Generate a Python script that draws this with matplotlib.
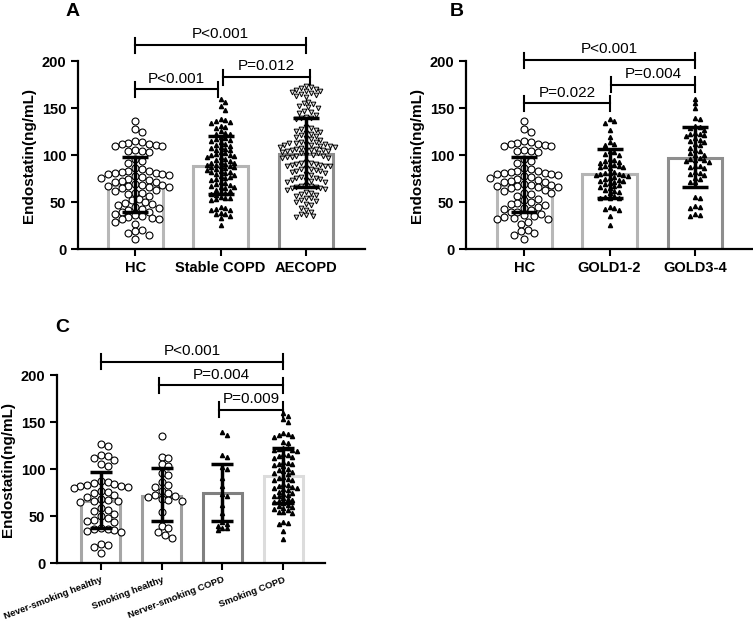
import numpy as np
import matplotlib
matplotlib.use("Agg")
import matplotlib.pyplot as plt

plt.rcParams['font.family'] = ['Liberation Sans', 'DejaVu Sans']

# ---- Dados ----
# Painel A
grupos_a = ["HC", "Stable COPD", "AECOPD"]
media_a = [68, 88, 101]
inf_a = [40, 59, 66]
sup_a = [98, 120, 139]

# Painel B
grupos_b = ["HC", "GOLD1-2", "GOLD3-4"]
media_b = [68, 80, 97]
inf_b = [40, 54, 66]
sup_b = [98, 107, 130]

# Painel C
grupos_c = ["Never-smoking healthy", "Smoking healthy", "Nerver-smoking COPD", "Smoking COPD"]
media_c = [66, 72, 75, 93]
inf_c = [37, 45, 45, 64]
sup_c = [97, 101, 106, 123]

# pontos individuais (estimados)
hc = [136, 128, 125, 115, 114, 113, 112, 112, 111, 110, 110, 106, 104, 104, 103,
      96, 94, 92, 86, 85, 83, 83, 82, 81, 81, 80, 80, 79, 78, 77, 76, 75, 74, 73,
      72, 71, 69, 68, 68, 67, 67, 66, 66, 65, 63, 62, 60, 60, 59, 57, 53, 52, 50,
      49, 48, 47, 45, 44, 43, 42, 40, 40, 38, 36, 35, 34, 33, 32, 32, 29, 27,
      21, 19, 17, 15, 11]
stable = [160, 156, 152, 148, 138, 137, 136, 135, 134, 131, 130, 129, 126, 124, 123,
          122, 119, 118, 117, 116, 115, 114, 112, 111, 110, 109, 108, 107, 106, 105,
          103, 102, 101, 100, 100, 99, 98, 98, 96, 95, 94, 93, 92, 92, 91, 90, 90,
          88, 88, 87, 87, 86, 85, 84, 83, 82, 82, 81, 80, 79, 78, 77, 76, 75, 74,
          71, 70, 69, 68, 67, 66, 66, 65, 63, 62, 61, 60, 59, 58, 56, 55, 54, 53, 52,
          45, 44, 43, 42, 42, 39, 38, 37, 35, 33, 26]
aecopd = [174, 172, 171, 170, 169, 168, 168, 167, 166, 165, 164, 163, 162,
          157, 155, 154, 152, 151, 150, 147, 146, 145, 143, 141, 140, 139, 138,
          130, 129, 128, 127, 126, 125, 124, 123, 121, 120, 119, 118, 117, 116,
          114, 114, 113, 113, 112, 112, 111, 111, 110, 110, 109, 109,
          108, 107, 107, 106, 106, 105, 105, 104, 104, 103, 102, 102,
          100, 100, 99, 99, 98, 98, 97, 97, 93, 92, 92, 91, 91, 90, 90, 89, 89, 88,
          86, 85, 85, 84, 83, 83, 82, 81, 80, 79, 77, 76, 76, 75, 74, 74, 73, 72, 72,
          68, 67, 67, 66, 66, 65, 65, 64, 63, 61, 60, 59, 58, 57, 55, 54,
          52, 51, 50, 48, 47, 44, 42, 40, 38, 36, 35, 34]
gold12 = [138, 136, 134, 127, 119, 114, 112, 111, 104, 103, 101, 100, 96, 95, 94, 93,
          92, 91, 90, 89, 88, 87, 87, 86, 82, 81, 81, 80, 80, 79, 79, 78, 77, 76, 75,
          74, 73, 73, 72, 70, 69, 68, 67, 66, 65, 63, 62, 61, 60, 57, 56, 55, 55, 54,
          45, 44, 43, 42, 35, 26]
gold34 = [160, 155, 150, 139, 138, 131, 130, 129, 127, 124, 123, 122, 121, 120, 118,
          116, 115, 114, 112, 111, 108, 106, 104, 102, 100, 100, 97, 96, 95, 95, 94,
          93, 89, 88, 87, 86, 82, 81, 80, 79, 76, 75, 72, 71, 56, 54, 46, 45, 44,
          38, 36, 35]
nunca_saud = [127, 125, 115, 114, 112, 110, 106, 103, 87, 86, 85, 84, 83, 82, 82, 81,
              80, 77, 76, 75, 73, 70, 68, 67, 66, 66, 65, 59, 57, 56, 52, 50, 48, 46,
              45, 44, 38, 36, 36, 35, 34, 33, 21, 19, 17, 11]
fuma_saud = [135, 113, 112, 105, 103, 96, 94, 86, 83, 81, 77, 75, 73, 72, 70, 68, 67,
             66, 55, 40, 38, 33, 30, 27]
nunca_copd = [140, 136, 115, 113, 102, 100, 91, 82, 74, 72, 62, 53, 44, 42, 40, 38, 37, 35]
fuma_copd = [160, 157, 153, 150, 138, 137, 136, 135, 134, 129, 128, 123, 122, 121, 120,
             120, 119, 116, 115, 114, 113, 112, 108, 107, 106, 105, 104, 103, 100, 99,
             98, 97, 96, 95, 92, 91, 90, 89, 88, 84, 83, 82, 81, 80, 80, 79, 78, 76, 75,
             74, 73, 72, 71, 69, 68, 67, 66, 65, 64, 62, 61, 60, 59, 58, 57, 55, 54, 53,
             44, 43, 42, 34, 26]

# cores das bordas das barras
cores_a = ["#b8b8b8", "#b4b4b4", "#8e8e8e"]
cores_b = ["#b8b8b8", "#b4b4b4", "#8e8e8e"]
cores_c = ["#a6a6a6", "#9e9e9e", "#808080", "#dcdcdc"]


def espalhar(ax, xc, ys, d):
    # posiciona os pontos lado a lado (estilo beeswarm) em pixels
    ys = np.asarray(ys, dtype=float)
    pix = ax.transData.transform(np.column_stack([np.full(len(ys), xc), ys]))
    x0 = pix[0, 0]
    ordem = np.argsort(-ys)
    colocados = []
    xs = np.zeros(len(ys))
    desloc = [0.0]
    for k in range(1, 40):
        desloc += [k * d * 0.5, -k * d * 0.5]
    for i in ordem:
        py = pix[i, 1]
        for off in desloc:
            ok = True
            for (qx, qy) in colocados:
                if (qx - (x0 + off)) ** 2 + (qy - py) ** 2 < d * d:
                    ok = False
                    break
            if ok:
                break
        colocados.append((x0 + off, py))
        xs[i] = x0 + off
    volta = ax.transData.inverted().transform(np.column_stack([xs, pix[:, 1]]))
    return volta[:, 0]


def chave(ax, x1, x2, y, texto, h=8):
    ax.plot([x1, x2], [y, y], color="black", lw=1.5, clip_on=False)
    ax.plot([x1, x1], [y - h, y + h], color="black", lw=1.5, clip_on=False)
    ax.plot([x2, x2], [y - h, y + h], color="black", lw=1.5, clip_on=False)
    ax.text((x1 + x2) / 2, y + 4, texto, ha="center", va="bottom", fontsize=11, clip_on=False)


def painel(ax, grupos, media, cores, xmin, xmax):
    x = np.arange(len(grupos))
    ax.set_xlim(xmin, xmax)
    ax.set_ylim(0, 200)
    ax.bar(x, media, width=0.64, color="white", edgecolor=cores, linewidth=2.2, zorder=1)
    for s in ["top", "right"]:
        ax.spines[s].set_visible(False)
    for s in ["left", "bottom"]:
        ax.spines[s].set_linewidth(1.6)
    ax.set_yticks([0, 50, 100, 150, 200])
    ax.tick_params(direction="out", length=5, width=1.5, labelsize=10.5)
    for t in ax.get_yticklabels():
        t.set_fontweight("bold")
    ax.set_ylabel("Endostatin(ng/mL)", fontsize=11, fontweight="bold")
    ax.set_xticks(x)
    return x


def barras_erro(ax, x, media, inf, sup, capsize):
    media = np.array(media)
    yerr = [media - np.array(inf), np.array(sup) - media]
    ax.errorbar(x, media, yerr=yerr, fmt="none", ecolor="black", elinewidth=2.5,
                capsize=capsize, capthick=2.5, zorder=5)


fig = plt.figure(figsize=(7.53, 6.23), dpi=100)

# ---- Painel A ----
ax_a = fig.add_axes([0.1036, 0.5998, 0.381, 0.3022])
xa = painel(ax_a, grupos_a, media_a, cores_a, -0.67, 2.69)
ax_a.set_xticklabels(grupos_a, fontsize=10.5, fontweight="bold")
px = espalhar(ax_a, 0, hc, 6.8)
ax_a.plot(px, hc, "o", ms=5, mfc="white", mec="black", mew=0.8, ls="none", zorder=3)
px = espalhar(ax_a, 1, stable, 4.6)
ax_a.plot(px, stable, "^", ms=3, color="black", ls="none", zorder=3)
px = espalhar(ax_a, 2, aecopd, 4.8)
ax_a.plot(px, aecopd, "v", ms=3.4, mfc="#dddddd", mec="black", mew=0.7, ls="none", zorder=3)
barras_erro(ax_a, xa, media_a, inf_a, sup_a, 9.5)
chave(ax_a, 0, 2, 217, "P<0.001")
chave(ax_a, 0, 0.97, 170, "P<0.001")
chave(ax_a, 1.03, 2.05, 183, "P=0.012")
fig.text(0.096, 0.981, "A", fontsize=14, fontweight="bold", ha="center", va="center")

# ---- Painel B ----
ax_b = fig.add_axes([0.619, 0.5998, 0.380, 0.3022])
xb = painel(ax_b, grupos_b, media_b, cores_b, -0.68, 2.67)
ax_b.set_xticklabels(grupos_b, fontsize=10.5, fontweight="bold")
px = espalhar(ax_b, 0, hc, 6.8)
ax_b.plot(px, hc, "o", ms=5, mfc="white", mec="black", mew=0.8, ls="none", zorder=3)
px = espalhar(ax_b, 1, gold12, 4.6)
ax_b.plot(px, gold12, "^", ms=3, color="black", ls="none", zorder=3)
px = espalhar(ax_b, 2, gold34, 4.6)
ax_b.plot(px, gold34, "^", ms=3, color="black", ls="none", zorder=3)
barras_erro(ax_b, xb, media_b, inf_b, sup_b, 9.5)
chave(ax_b, 0, 2, 201, "P<0.001")
chave(ax_b, 0, 1, 155, "P=0.022")
chave(ax_b, 1.02, 2, 175, "P=0.004")
fig.text(0.607, 0.981, "B", fontsize=14, fontweight="bold", ha="center", va="center")

# ---- Painel C ----
ax_c = fig.add_axes([0.0757, 0.0958, 0.356, 0.3022])
xc = painel(ax_c, grupos_c, media_c, cores_c, -0.72, 3.69)
ax_c.set_xticklabels(grupos_c, fontsize=6.8, fontweight="bold", rotation=21,
                     ha="right", va="top", rotation_mode="anchor")
px = espalhar(ax_c, 0, nunca_saud, 6.8)
ax_c.plot(px, nunca_saud, "o", ms=5, mfc="white", mec="black", mew=0.8, ls="none", zorder=3)
px = espalhar(ax_c, 1, fuma_saud, 6.8)
ax_c.plot(px, fuma_saud, "o", ms=5, mfc="white", mec="black", mew=0.8, ls="none", zorder=3)
px = espalhar(ax_c, 2, nunca_copd, 4.6)
ax_c.plot(px, nunca_copd, "^", ms=3, color="black", ls="none", zorder=3)
px = espalhar(ax_c, 3, fuma_copd, 4.6)
ax_c.plot(px, fuma_copd, "^", ms=3, color="black", ls="none", zorder=3)
barras_erro(ax_c, xc, media_c, inf_c, sup_c, 8)
chave(ax_c, 0, 3, 214, "P<0.001")
chave(ax_c, 0.95, 3, 189, "P=0.004")
chave(ax_c, 1.95, 3, 163, "P=0.009")
fig.text(0.083, 0.474, "C", fontsize=14, fontweight="bold", ha="center", va="center")

fig.savefig("out.png", dpi=100)
